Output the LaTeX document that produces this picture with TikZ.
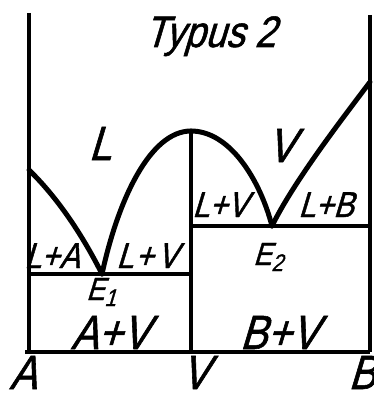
\documentclass[tikz,border=0pt]{standalone}
\usepackage{fontspec}
\newfontfamily\labfont{Liberation Sans}[FakeSlant=0.3,FakeStretch=0.85,FakeBold=1.2]
\newcommand{\lsub}[1]{\raisebox{-6pt}{\fontsize{24}{24}\selectfont #1}}
\begin{document}
\begin{tikzpicture}[x=1pt,y=-1pt,
  axis/.style={line width=3.5pt,line cap=butt},
  curve/.style={line width=5pt,line cap=round},
  big/.style={font=\labfont\fontsize{48}{50}\selectfont,anchor=base,inner sep=0pt},
  small/.style={font=\labfont\fontsize{36}{38}\selectfont,anchor=base,inner sep=0pt},
  esty/.style={font=\labfont\fontsize{32}{34}\selectfont,anchor=base,inner sep=0pt},
  title/.style={font=\labfont\fontsize{44}{46}\selectfont,anchor=base,inner sep=0pt}]
\useasboundingbox (0,0) rectangle (373,396);
% coordinates
\coordinate (Atop) at (29,13);
\coordinate (Abot) at (29,352);
\coordinate (Aleft) at (25,352);
\coordinate (Btop) at (370,15);
\coordinate (Bbot) at (370,352);
\coordinate (Vtop) at (191,131);
\coordinate (Vbot) at (191,352);
\coordinate (E1) at (102,274);
\coordinate (E2) at (272,226);
\coordinate (E1l) at (29,274);
\coordinate (E1r) at (191,274);
\coordinate (E2l) at (191,226);
\coordinate (E2r) at (370,226);
\coordinate (LA0) at (29,170);
\coordinate (LB0) at (370,82);
% frame
\draw[axis] (Atop) -- (Abot);
\draw[axis] (Btop) -- (Bbot);
\draw[axis] (Aleft) -- (Bbot);
\draw[axis] (Vtop) -- (Vbot);
\draw[axis] (E1l) -- (E1r);
\draw[axis] (E2l) -- (E2r);
% curves
\draw[curve] (LA0) .. controls (60,200) and (85,240) .. (E1);
\draw[curve] (E1) .. controls (118,200) and (150,131) .. (Vtop);
\draw[curve] (Vtop) .. controls (230,131) and (260,180) .. (E2);
\draw[curve] (E2) .. controls (292,185) and (335,128) .. (LB0);
% labels
\node[title] (t) at (210,47) {Typus 2};
\node[big] (lL) at (100,160) {L};
\node[big] (lV) at (281,162) {V};
\node[small] (lLA) at (52,268) {L+A};
\node[small] (lLV1) at (147,268) {L{\kern2pt}+{\kern4pt}V};
\node[small] (lLV2) at (220,217) {L+V};
\node[small] (lLB) at (326,217) {L+B};
\node[esty] (lE1) at (101,300) {E\lsub{1}};
\node[esty] (lE2) at (268,265) {E\lsub{2}};
\node[big] (lAV) at (110,349) {A+V};
\node[big] (lBV) at (279,349) {B+V};
\node[big] (lA) at (23,389) {A};
\node[big] (lVb) at (195,389) {V};
\node[big] (lB) at (362,389) {B};
\end{tikzpicture}
\end{document}
